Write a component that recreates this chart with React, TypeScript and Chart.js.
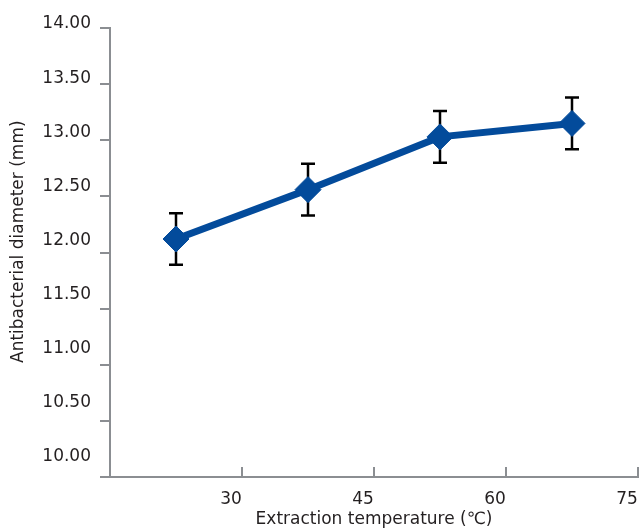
import React, { useEffect, useRef } from "react";
import { Chart, registerables } from "chart.js";

Chart.register(...registerables);

const temperatures = [22.5, 37.5, 52.5, 67.5];
const diameters = [12.12, 12.56, 13.03, 13.15];
const errors = [0.23, 0.23, 0.23, 0.23];
const xTickValues = [30, 45, 60, 75];
const yTickValues = [10, 10.5, 11, 11.5, 12, 12.5, 13, 13.5, 14];

const FONT = "'DejaVu Sans', 'Liberation Sans', Arial, sans-serif";
const AXIS_GRAY = "#8b8e92";
const TEXT = "#231f20";
const BLUE = "#034b9b";

const errorBarPlugin = {
  id: "errorBars",
  beforeDatasetsDraw(chart: any) {
    const ctx = chart.ctx;
    const xs = chart.scales.x;
    const ys = chart.scales.y;
    ctx.save();
    ctx.strokeStyle = "#000";
    ctx.lineWidth = 2.5;
    temperatures.forEach((t, i) => {
      const px = xs.getPixelForValue(t);
      const top = ys.getPixelForValue(diameters[i] + errors[i]);
      const bot = ys.getPixelForValue(diameters[i] - errors[i]);
      ctx.beginPath();
      ctx.moveTo(px, top);
      ctx.lineTo(px, bot);
      ctx.moveTo(px - 7, top);
      ctx.lineTo(px + 7, top);
      ctx.moveTo(px - 7, bot);
      ctx.lineTo(px + 7, bot);
      ctx.stroke();
    });
    ctx.restore();
  },
  afterDraw(chart: any) {
    const ctx = chart.ctx;
    const xs = chart.scales.x;
    const base = chart.chartArea.bottom;
    ctx.save();
    ctx.strokeStyle = AXIS_GRAY;
    ctx.lineWidth = 2;
    xTickValues.forEach((v) => {
      const px = xs.getPixelForValue(v);
      ctx.beginPath();
      ctx.moveTo(px, base);
      ctx.lineTo(px, base - 10);
      ctx.stroke();
    });
    ctx.restore();
  },
};

export default function App() {
  const ref = useRef<HTMLCanvasElement>(null);
  useEffect(() => {
    if (!ref.current) return;
    const chart = new Chart(ref.current, {
      type: "line",
      data: {
        datasets: [
          {
            data: temperatures.map((t, i) => ({ x: t, y: diameters[i] })),
            borderColor: BLUE,
            backgroundColor: BLUE,
            borderWidth: 7,
            pointStyle: "rectRot",
            pointRadius: 13,
            pointBorderWidth: 1,
            pointBackgroundColor: BLUE,
            pointBorderColor: BLUE,
            tension: 0,
            clip: false as any,
          },
        ],
      },
      options: {
        animation: false,
        responsive: false,
        devicePixelRatio: 1,
        layout: { autoPadding: false, padding: { top: 28, right: 1, bottom: 0, left: 0 } },
        plugins: { legend: { display: false }, tooltip: { enabled: false } },
        scales: {
          x: {
            type: "linear",
            min: 15,
            max: 75,
            afterFit: (s: any) => {
              s.height = 53;
              s.paddingLeft = 0;
              s.paddingRight = 0;
            },
            afterBuildTicks: (s: any) => {
              s.ticks = [15, ...xTickValues].map((v) => ({ value: v }));
            },
            ticks: {
              callback: (v: any) => (xTickValues.includes(Number(v)) ? String(v) : ""),
              color: TEXT,
              font: { family: FONT, size: 17 },
              padding: 12,
              labelOffset: -11,
              maxRotation: 0,
              autoSkip: false,
            },
            grid: { display: false, drawTicks: false },
            border: { display: true, color: AXIS_GRAY, width: 2 },
            title: {
              display: true,
              text: "Extraction temperature (\u2103)",
              color: TEXT,
              font: { family: FONT, size: 17 },
              padding: { top: 0, bottom: 0 },
            },
          },
          y: {
            position: "left",
            weight: 0,
            min: 10,
            max: 14,
            afterFit: (s: any) => {
              s.width = 0;
              s.paddingTop = 0;
              s.paddingBottom = 0;
            },
            afterBuildTicks: (s: any) => {
              s.ticks = yTickValues.map((v) => ({ value: v }));
            },
            ticks: { display: false },
            grid: {
              drawOnChartArea: false,
              drawTicks: true,
              tickLength: 10,
              color: AXIS_GRAY,
              lineWidth: 2,
            },
            border: { display: true, color: AXIS_GRAY, width: 2 },
          },
          yLabels: {
            type: "linear",
            position: "left",
            weight: 1,
            min: 9.812,
            max: 13.963,
            afterFit: (s: any) => {
              s.width = 110;
              s.paddingTop = 0;
              s.paddingBottom = 0;
            },
            afterBuildTicks: (s: any) => {
              s.ticks = yTickValues.map((v) => ({ value: v }));
            },
            ticks: {
              callback: (v: any) => Number(v).toFixed(2),
              color: TEXT,
              font: { family: FONT, size: 17 },
              padding: 19,
              autoSkip: false,
            },
            grid: { display: false, drawTicks: false, drawOnChartArea: false },
            border: { display: false },
            title: {
              display: true,
              text: "    Antibacterial diameter (mm)",
              color: TEXT,
              font: { family: FONT, size: 17 },
              padding: { top: 8, bottom: 0 },
            },
          },
        },
      },
      plugins: [errorBarPlugin],
    });
    return () => chart.destroy();
  }, []);
  return (
    <div style={{ position: "absolute", left: 0, top: 0, width: 639, height: 530, background: "#fff" }}>
      <canvas ref={ref} width={639} height={530} />
    </div>
  );
}
